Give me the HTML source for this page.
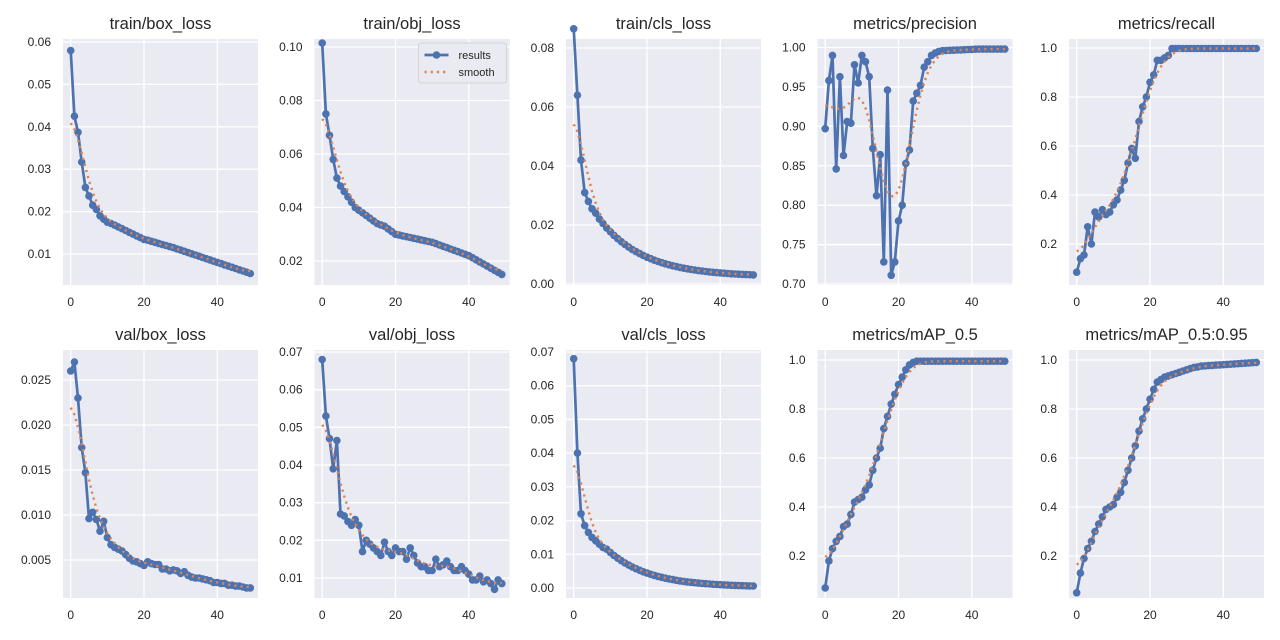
<!DOCTYPE html>
<html><head><meta charset="utf-8"><style>
html,body{margin:0;padding:0;background:#fff;width:1280px;height:640px;overflow:hidden}
svg text{font-family:"Liberation Sans","DejaVu Sans",sans-serif;fill:#262626}
</style></head><body>
<svg id="s" width="1280" height="640" xmlns="http://www.w3.org/2000/svg"></svg>
<script>
function fill(arr,n,f){while(arr.length<n)arr.push(f(arr.length));return arr;}
const N=50;
const P1=fill([0.058,0.0425,0.0387,0.0317,0.0257,0.0237,0.0215,0.0205,0.019,0.0182,0.0175,0.0172],N,i=>i<=20?0.0168-(i-12)*0.00042:(i<=28?0.0135-(i-20)*0.00025:0.0115-(i-28)*0.00029));
const P2=fill([0.1015,0.075,0.067,0.058,0.051,0.048,0.046,0.044,0.042,0.040,0.039,0.038,0.037,0.036,0.035,0.034,0.0335,0.033,0.032,0.031,0.030],N,i=>i<=30?0.030-(i-20)*0.0003:(i<=40?0.027-(i-30)*0.0005:0.022-(i-40)*0.00078));
const P3=fill([0.0865,0.064,0.042,0.031,0.028,0.0255,0.024,0.022,0.0205,0.019],N,i=>0.0025+0.0165*Math.exp(-(i-9)/12));
const P4=fill([0.897,0.958,0.99,0.846,0.963,0.863,0.906,0.904,0.978,0.955,0.99,0.982,0.963,0.872,0.812,0.864,0.728,0.946,0.711,0.728,0.78,0.80,0.853,0.87,0.932,0.942,0.952,0.975,0.982,0.99,0.993,0.995,0.996],N,i=>Math.min(0.998,0.996+(i-32)*0.0002));
const P5=fill([0.085,0.14,0.155,0.27,0.2,0.33,0.31,0.34,0.32,0.33,0.36,0.38,0.42,0.46,0.53,0.59,0.55,0.70,0.76,0.80,0.86,0.89,0.95,0.95,0.96,0.97],N,i=>0.998);
const P6=[0.026,0.027,0.023,0.0175,0.0147,0.0096,0.0103,0.0095,0.0082,0.0093,0.0075,0.0067,0.0064,0.0062,0.006,0.0056,0.0052,0.0049,0.0048,0.0046,0.0044,0.0048,0.0046,0.0045,0.0045,0.004,0.004,0.0038,0.0039,0.0038,0.0035,0.0037,0.0033,0.0031,0.003,0.003,0.0029,0.0028,0.0027,0.0025,0.0025,0.0024,0.0024,0.0022,0.0022,0.0021,0.0021,0.002,0.0019,0.0019];
const P7=[0.068,0.053,0.047,0.039,0.0465,0.027,0.0265,0.025,0.024,0.0255,0.024,0.017,0.020,0.019,0.018,0.017,0.016,0.0195,0.017,0.016,0.018,0.017,0.017,0.015,0.018,0.016,0.014,0.013,0.013,0.012,0.012,0.015,0.013,0.0135,0.0145,0.013,0.012,0.012,0.013,0.012,0.011,0.0095,0.0095,0.0105,0.009,0.0095,0.0085,0.007,0.0095,0.0085];
const P8=fill([0.068,0.040,0.022,0.0185,0.0165,0.015,0.014,0.013,0.012,0.0115],N,i=>0.0003+0.0112*Math.exp(-(i-9)/11));
const P9=fill([0.07,0.18,0.23,0.26,0.28,0.32,0.33,0.37,0.42,0.43,0.44,0.47,0.49,0.55,0.6,0.64,0.72,0.77,0.82,0.86,0.9,0.93,0.96,0.98,0.99],N,i=>0.995);
const P10=fill([0.05,0.13,0.19,0.23,0.26,0.3,0.33,0.36,0.39,0.4,0.41,0.44,0.46,0.5,0.55,0.6,0.65,0.71,0.76,0.8,0.84,0.88,0.91,0.92,0.93,0.935,0.94,0.945,0.95,0.955,0.96,0.965,0.97,0.972,0.975],N,i=>Math.min(0.99,0.975+(i-34)*0.001));
const panels=[
 {t:"train/box_loss",d:P1,ticks:[0.01,0.02,0.03,0.04,0.05,0.06],dec:2,v0:0.06,y0:42,v1:0.01,y1:254},
 {t:"train/obj_loss",d:P2,ticks:[0.02,0.04,0.06,0.08,0.10],dec:2,v0:0.10,y0:47,v1:0.02,y1:261,leg:1},
 {t:"train/cls_loss",d:P3,ticks:[0,0.02,0.04,0.06,0.08],dec:2,v0:0.08,y0:48,v1:0,y1:284},
 {t:"metrics/precision",d:P4,ticks:[0.70,0.75,0.80,0.85,0.90,0.95,1.00],dec:2,v0:1.0,y0:47.5,v1:0.70,y1:284},
 {t:"metrics/recall",d:P5,ticks:[0.2,0.4,0.6,0.8,1.0],dec:1,v0:1.0,y0:48,v1:0.2,y1:244},
 {t:"val/box_loss",d:P6,ticks:[0.005,0.010,0.015,0.020,0.025],dec:3,v0:0.025,y0:380,v1:0.005,y1:560},
 {t:"val/obj_loss",d:P7,ticks:[0.01,0.02,0.03,0.04,0.05,0.06,0.07],dec:2,v0:0.07,y0:352,v1:0.01,y1:578},
 {t:"val/cls_loss",d:P8,ticks:[0,0.01,0.02,0.03,0.04,0.05,0.06,0.07],dec:2,v0:0.07,y0:352,v1:0,y1:588},
 {t:"metrics/mAP_0.5",d:P9,ticks:[0.2,0.4,0.6,0.8,1.0],dec:1,v0:1.0,y0:360,v1:0.2,y1:556},
 {t:"metrics/mAP_0.5:0.95",d:P10,ticks:[0.2,0.4,0.6,0.8,1.0],dec:1,v0:1.0,y0:360,v1:0.2,y1:556}
];
function gauss(a,s){const r=Math.round(4*s),w=[];let sum=0;for(let k=-r;k<=r;k++){const v=Math.exp(-k*k/(2*s*s));w.push(v);sum+=v;}
 const n=a.length;const ref=i=>{while(i<0||i>=n){if(i<0)i=-i-1;if(i>=n)i=2*n-i-1;}return a[i];};
 return a.map((_,i)=>{let t=0;for(let k=-r;k<=r;k++)t+=w[k+r]*ref(i+k);return t/sum;});}
let h='';
panels.forEach((p,idx)=>{
 const col=idx%5,row=Math.floor(idx/5);
 const L=63+col*251.5,R=L+195,T=row?350:39,B=row?598:285;
 const X=i=>L+7.7+i*3.665;
 const Y=v=>p.y0+(v-p.v0)*(p.y1-p.y0)/(p.v1-p.v0);
 h+=`<rect x="${L}" y="${T}" width="${R-L}" height="${B-T}" fill="#EAEAF2"/>`;
 [0,20,40].forEach(x=>{h+=`<line x1="${X(x)}" x2="${X(x)}" y1="${T}" y2="${B}" stroke="#fff" stroke-width="1.3"/>`;
  h+=`<text x="${X(x)}" y="${B+21}" font-size="12" text-anchor="middle">${x}</text>`;});
 p.ticks.forEach(v=>{const y=Y(v);h+=`<line x1="${L}" x2="${R}" y1="${y}" y2="${y}" stroke="#fff" stroke-width="1.3"/>`;
  h+=`<text x="${L-12}" y="${y+4}" font-size="12" text-anchor="end">${v.toFixed(p.dec)}</text>`;});
 h+=`<text x="${(L+R)/2}" y="${T-10}" font-size="16.5" text-anchor="middle">${p.t}</text>`;
 const pts=p.d.map((v,i)=>X(i).toFixed(1)+','+Y(v).toFixed(1)).join(' ');
 h+=`<polyline points="${pts}" fill="none" stroke="#4C72B0" stroke-width="2.7" stroke-linejoin="round"/>`;
 p.d.forEach((v,i)=>{h+=`<circle cx="${X(i).toFixed(1)}" cy="${Y(v).toFixed(1)}" r="3.8" fill="#4C72B0"/>`;});
 const sm=gauss(p.d,3);
 h+=`<polyline points="${sm.map((v,i)=>X(i).toFixed(1)+','+Y(v).toFixed(1)).join(' ')}" fill="none" stroke="#DD8452" stroke-width="2.4" stroke-dasharray="2.2,4"/>`;
 if(p.leg){const lx=R-91,ly=T+4;
  h+=`<rect x="${lx}" y="${ly}" width="88" height="40" rx="3" fill="#EAEAF2" stroke="#ccc" stroke-width="0.8"/>`;
  h+=`<line x1="${lx+6}" x2="${lx+30}" y1="${ly+12}" y2="${ly+12}" stroke="#4C72B0" stroke-width="2.7"/><circle cx="${lx+18}" cy="${ly+12}" r="3.8" fill="#4C72B0"/>`;
  h+=`<text x="${lx+40}" y="${ly+16}" font-size="11">results</text>`;
  h+=`<line x1="${lx+6}" x2="${lx+30}" y1="${ly+29}" y2="${ly+29}" stroke="#DD8452" stroke-width="2.4" stroke-dasharray="2.2,4"/>`;
  h+=`<text x="${lx+40}" y="${ly+33}" font-size="11">smooth</text>`;}
});
document.getElementById('s').innerHTML=h;
</script>
</body></html>
